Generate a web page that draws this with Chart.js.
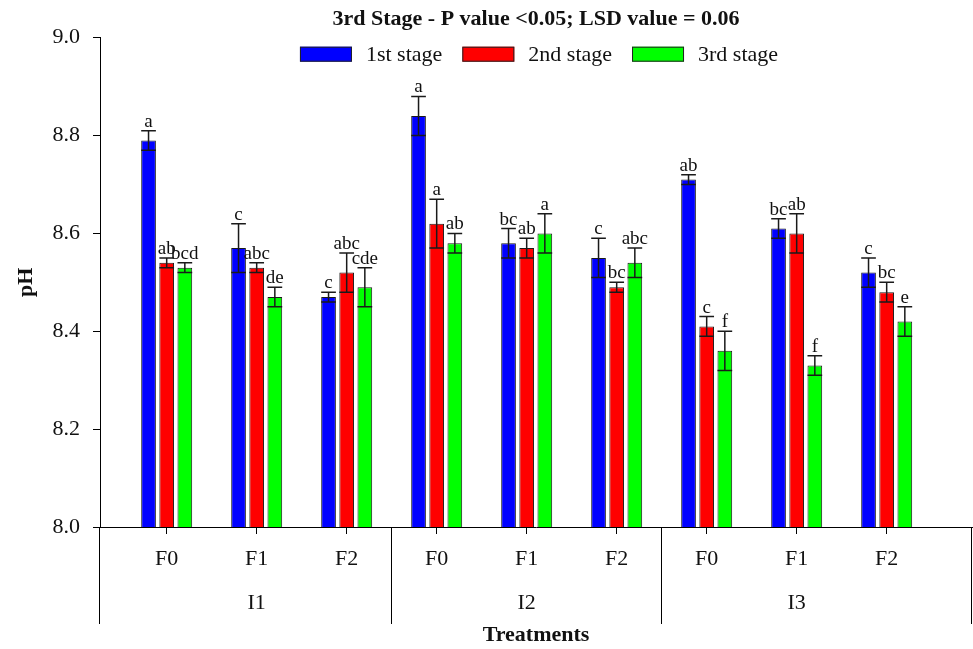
<!DOCTYPE html>
<html>
<head>
<meta charset="utf-8">
<script src="https://cdn.jsdelivr.net/npm/chart.js@4/dist/chart.umd.min.js"></script>
<style>
  html, body { margin: 0; padding: 0; background: #fff; }
  canvas { display: block; }
</style>
</head>
<body>
<canvas id="phChart" width="973" height="649"></canvas>
<script>
    // treatment layout: fertiliser level within each irrigation group
    var categories = ['F0', 'F1', 'F2', 'F0', 'F1', 'F2', 'F0', 'F1', 'F2'];
    var groups = ['I1', 'I2', 'I3'];
    var yTicks = [8.0, 8.2, 8.4, 8.6, 8.8, 9.0];

    // mean pH, standard error and LSD letters per stage
    var stage1 = [8.79, 8.57, 8.47, 8.84, 8.58, 8.55, 8.71, 8.61, 8.52];
    var stage1Err = [0.02, 0.05, 0.01, 0.04, 0.03, 0.04, 0.01, 0.02, 0.03];
    var stage1Letters = ['a', 'c', 'c', 'a', 'bc', 'c', 'ab', 'bc', 'c'];

    var stage2 = [8.54, 8.53, 8.52, 8.62, 8.57, 8.49, 8.41, 8.60, 8.48];
    var stage2Err = [0.01, 0.01, 0.04, 0.05, 0.02, 0.01, 0.02, 0.04, 0.02];
    var stage2Letters = ['ab', 'abc', 'abc', 'a', 'ab', 'bc', 'c', 'ab', 'bc'];

    var stage3 = [8.53, 8.47, 8.49, 8.58, 8.60, 8.54, 8.36, 8.33, 8.42];
    var stage3Err = [0.01, 0.02, 0.04, 0.02, 0.04, 0.03, 0.04, 0.02, 0.03];
    var stage3Letters = ['bcd', 'de', 'cde', 'ab', 'a', 'abc', 'f', 'f', 'e'];

    // group boundaries on the x value scale
    var groupEdges = [2.5, 5.5];

    var serif = '"Liberation Serif", "Times New Roman", serif';

    function points(values) {
        var out = [];
        for (var i = 0; i < values.length; i++) {
            out.push({ x: i, y: values[i] });
        }
        return out;
    }

    // error bars with caps plus the letter above each bar
    var errorBars = {
        id: 'errorBars',
        afterDatasetsDraw: function(chart) {
            var ctx = chart.ctx;
            var yScale = chart.scales.y;
            ctx.save();
            ctx.strokeStyle = '#1a1a1a';
            ctx.lineWidth = 1.5;
            ctx.fillStyle = '#111';
            ctx.font = '19px ' + serif;
            ctx.textAlign = 'center';
            ctx.textBaseline = 'alphabetic';
            chart.data.datasets.forEach(function(ds, di) {
                var meta = chart.getDatasetMeta(di);
                meta.data.forEach(function(bar, i) {
                    var v = ds.data[i].y;
                    var e = ds.errors[i];
                    var top = yScale.getPixelForValue(v + e);
                    var bottom = yScale.getPixelForValue(v - e);
                    var half = bar.width / 2;
                    ctx.beginPath();
                    ctx.moveTo(bar.x, top);
                    ctx.lineTo(bar.x, bottom);
                    ctx.moveTo(bar.x - half, top);
                    ctx.lineTo(bar.x + half, top);
                    ctx.moveTo(bar.x - half, bottom);
                    ctx.lineTo(bar.x + half, bottom);
                    ctx.stroke();
                    ctx.fillText(ds.letters[i], bar.x, top - 4);
                });
            });
            ctx.restore();
        }
    };

    // vertical dividers under the axis between I1 / I2 / I3
    var groupDividers = {
        id: 'groupDividers',
        afterDraw: function(chart) {
            var ctx = chart.ctx;
            var xs = chart.scales.x;
            var area = chart.chartArea;
            var edges = [xs.min].concat(groupEdges, [xs.max]);
            ctx.save();
            ctx.strokeStyle = '#000';
            ctx.lineWidth = 1;
            edges.forEach(function(v) {
                var px = Math.round(xs.getPixelForValue(v)) - 0.5;
                ctx.beginPath();
                ctx.moveTo(px, area.bottom);
                ctx.lineTo(px, area.bottom + 97);
                ctx.stroke();
            });
            ctx.restore();
        }
    };

    // legend row drawn inside the top of the plot
    var stageLegend = {
        id: 'stageLegend',
        afterDraw: function(chart) {
            var ctx = chart.ctx;
            var area = chart.chartArea;
            var boxW = 52, boxH = 15, gap = 14, spacing = 20;
            ctx.save();
            ctx.font = '22px ' + serif;
            var items = chart.data.datasets.map(function(ds) {
                return { label: ds.label, color: ds.backgroundColor, w: ctx.measureText(ds.label).width };
            });
            var total = spacing * (items.length - 1);
            items.forEach(function(it) { total += boxW + gap + it.w; });
            var x = (area.left + area.right) / 2 - total / 2 + 3;
            var cy = area.top + 16.5;
            ctx.textBaseline = 'middle';
            ctx.textAlign = 'left';
            items.forEach(function(it) {
                ctx.fillStyle = it.color;
                ctx.fillRect(x, cy - boxH / 2, boxW, boxH);
                ctx.strokeStyle = '#222';
                ctx.lineWidth = 1;
                ctx.strokeRect(x + 0.5, cy - boxH / 2 + 0.5, boxW - 1, boxH - 1);
                ctx.fillStyle = '#111';
                ctx.fillText(it.label, x + boxW + gap, cy + 1);
                x += boxW + gap + it.w + spacing;
            });
            ctx.restore();
        }
    };

    var ctx = document.getElementById('phChart').getContext('2d');

    new Chart(ctx, {
        type: 'bar',
        data: {
            datasets: [
                { label: '1st stage', data: points(stage1), errors: stage1Err, letters: stage1Letters,
                  backgroundColor: '#0000ff', borderColor: '#1a1a1a', borderWidth: 1 },
                { label: '2nd stage', data: points(stage2), errors: stage2Err, letters: stage2Letters,
                  backgroundColor: '#ff0000', borderColor: '#1a1a1a', borderWidth: 1 },
                { label: '3rd stage', data: points(stage3), errors: stage3Err, letters: stage3Letters,
                  backgroundColor: '#00ff00', borderColor: '#1a1a1a', borderWidth: 1 }
            ]
        },
        options: {
            responsive: false,
            animation: false,
            devicePixelRatio: 1,
            categoryPercentage: 0.605,
            barPercentage: 0.81,
            layout: { padding: { left: 0, right: 1, top: 0, bottom: 0 } },
            plugins: {
                legend: { display: false },
                tooltip: { enabled: false },
                title: {
                    display: true,
                    fullSize: false,
                    text: '3rd Stage - P value <0.05; LSD value = 0.06',
                    color: '#111',
                    font: { family: serif, size: 22, weight: 'bold', lineHeight: 1.2 },
                    padding: { top: 6, bottom: 5.3 }
                }
            },
            scales: {
                x: {
                    type: 'linear',
                    offset: false,
                    min: -0.741,
                    max: 8.948,
                    afterBuildTicks: function(scale) {
                        scale.ticks = categories.map(function(c, i) { return { value: i }; });
                    },
                    afterFit: function(scale) { scale.height = 122; },
                    ticks: {
                        autoSkip: false,
                        maxRotation: 0,
                        padding: 3,
                        color: '#111',
                        font: { family: serif, size: 22, lineHeight: 2 },
                        callback: function(v) {
                            var i = Math.round(v);
                            var g = (i % 3 === 1) ? groups[Math.floor(i / 3)] : '';
                            return [categories[i], g];
                        }
                    },
                    grid: { offset: false, drawOnChartArea: false, tickLength: 7, color: '#000', lineWidth: 1 },
                    border: { display: true, color: '#000', width: 1 },
                    title: {
                        display: true,
                        text: 'Treatments',
                        color: '#111',
                        font: { family: serif, size: 22, weight: 'bold', lineHeight: 1.2 },
                        padding: { top: 0, bottom: 0 }
                    }
                },
                y: {
                    min: 8.0,
                    max: 9.0,
                    afterBuildTicks: function(scale) {
                        scale.ticks = yTicks.map(function(v) { return { value: v }; });
                    },
                    afterFit: function(scale) { scale.width = 100; },
                    ticks: {
                        padding: 13,
                        color: '#111',
                        font: { family: serif, size: 22 },
                        callback: function(v) { return Number(v).toFixed(1); }
                    },
                    grid: { drawOnChartArea: false, tickLength: 7, color: '#000', lineWidth: 1 },
                    border: { display: true, color: '#000', width: 1 },
                    title: {
                        display: true,
                        text: 'pH',
                        color: '#111',
                        font: { family: serif, size: 22, weight: 'bold', lineHeight: 1.2 },
                        padding: { top: 13.5, bottom: 0 }
                    }
                }
            }
        },
        plugins: [errorBars, groupDividers, stageLegend]
    });
</script>
</body>
</html>
